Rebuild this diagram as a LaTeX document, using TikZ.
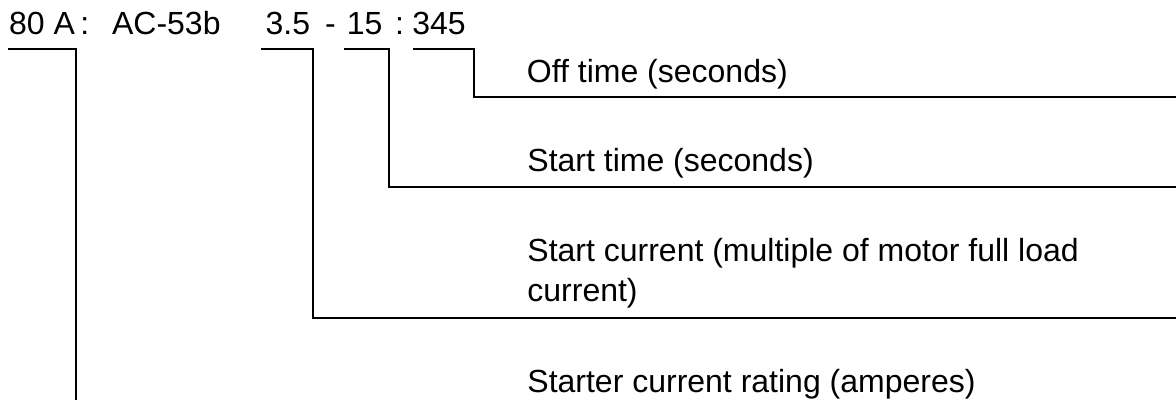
\documentclass[tikz,border=0pt]{standalone}
\usepackage{fontspec}
\setmainfont{Liberation Sans}
\begin{document}
\begin{tikzpicture}[x=0.5pt,y=-0.5pt,
  txt/.style={anchor=base west,inner sep=0pt,font=\fontsize{16}{20}\selectfont},
  lead/.style={draw=black,line width=1pt}]
\useasboundingbox (0,0) rectangle (1176,400);
% code text
\node[txt] (rating) at (8.7,35) {80 A};
\node[txt] (c1) at (80,35) {:};
\node[txt] (cat) at (111.7,35) {AC-53b};
\node[txt] (cur) at (265.3,35) {3.5};
\node[txt] (dash) at (324.6,35) {-};
\node[txt] (st) at (346.5,35) {15};
\node[txt] (c2) at (394.8,35) {:};
\node[txt] (off) at (412,35) {345};
% explanations
\node[txt] (offL) at (526.5,83) {Off time (seconds)};
\node[txt] (stL) at (527,172) {Start time (seconds)};
\node[txt] (curL) at (527,262) {Start current (multiple of motor full load};
\node[txt] (curL2) at (527,302) {current)};
\node[txt] (ratL) at (527,392) {Starter current rating (amperes)};
% bracket coordinates
\coordinate (r1) at (8.3,49.3);  \coordinate (r2) at (76,49.3);  \coordinate (r3) at (76,400);
\coordinate (a1) at (261,49.3);  \coordinate (a2) at (313,49.3); \coordinate (a3) at (313,317.7); \coordinate (a4) at (1176,317.7);
\coordinate (s1) at (344,49.3);  \coordinate (s2) at (388.8,49.3); \coordinate (s3) at (388.8,186.7); \coordinate (s4) at (1176,186.7);
\coordinate (o1) at (413.3,49.3); \coordinate (o2) at (473.5,49.3); \coordinate (o3) at (473.5,96.7); \coordinate (o4) at (1176,96.7);
\draw[lead] (r1) -- (r2) -- (r3);
\draw[lead] (a1) -- (a2) -- (a3) -- (a4);
\draw[lead] (s1) -- (s2) -- (s3) -- (s4);
\draw[lead] (o1) -- (o2) -- (o3) -- (o4);
\end{tikzpicture}
\end{document}
